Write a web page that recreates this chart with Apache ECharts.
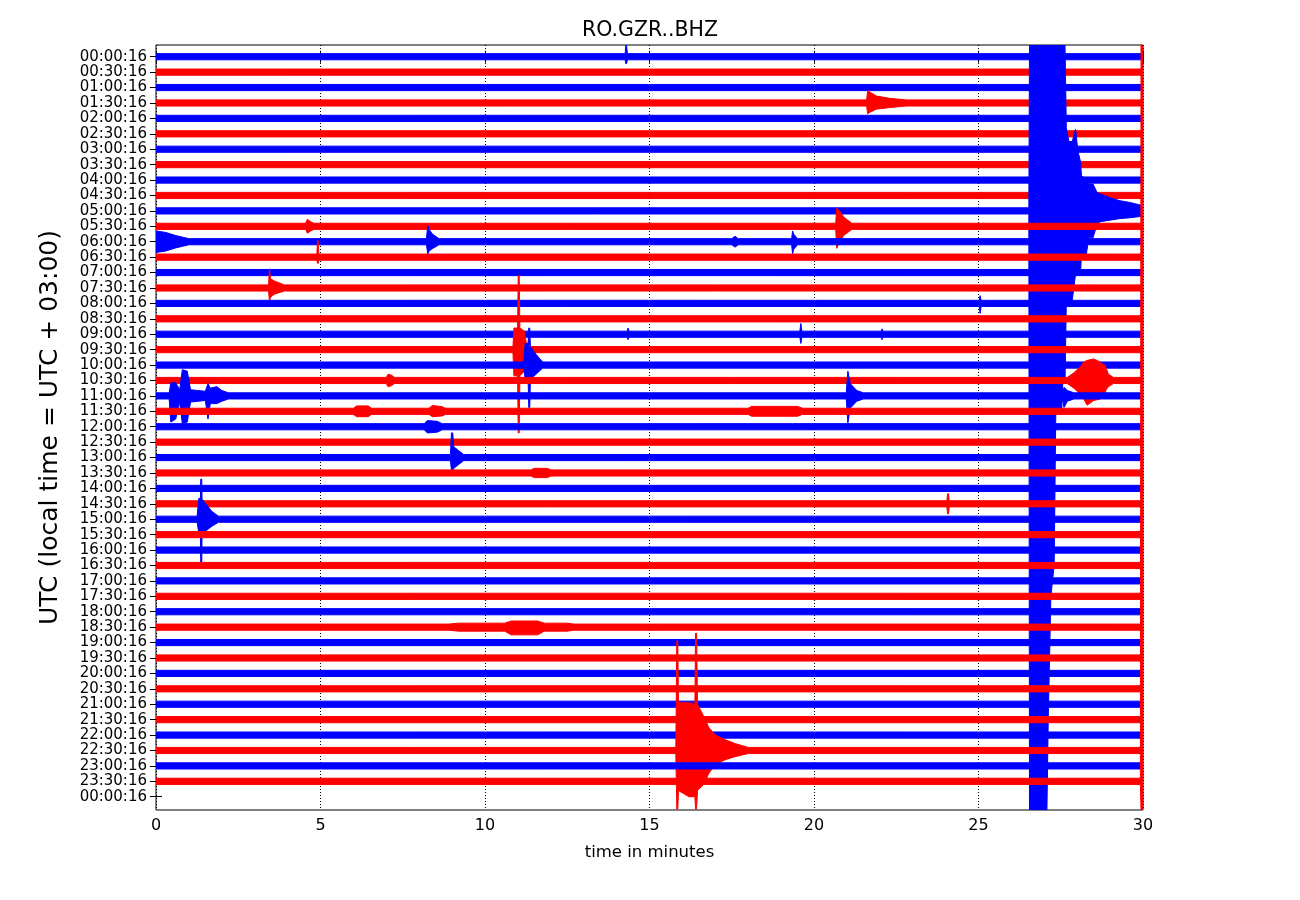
<!DOCTYPE html>
<html><head><meta charset="utf-8">
<script src="https://cdn.jsdelivr.net/npm/echarts@6/dist/echarts.min.js"></script>
<style>html,body{margin:0;padding:0;background:#fff}#c{width:1300px;height:900px}</style>
</head><body><div id="c"></div>
<script>
// ---------- data ----------
const traceLabels = ['00:00:16','00:30:16','01:00:16','01:30:16','02:00:16','02:30:16','03:00:16','03:30:16',
  '04:00:16','04:30:16','05:00:16','05:30:16','06:00:16','06:30:16','07:00:16','07:30:16','08:00:16','08:30:16',
  '09:00:16','09:30:16','10:00:16','10:30:16','11:00:16','11:30:16','12:00:16','12:30:16','13:00:16','13:30:16',
  '14:00:16','14:30:16','15:00:16','15:30:16','16:00:16','16:30:16','17:00:16','17:30:16','18:00:16','18:30:16',
  '19:00:16','19:30:16','20:00:16','20:30:16','21:00:16','21:30:16','22:00:16','22:30:16','23:00:16','23:30:16','00:00:16'];
const xTicks = [0, 5, 10, 15, 20, 25, 30];
const traceCount = 48;
const noise = 0.2; // half-width of the background noise band (in trace spacings)
// envelope key points per trace: [minute, amplitude up, amplitude down] (units: trace spacings)
const N = noise;
const trace00 = [[14.26,N,N],[14.28,0.75,0.45],[14.30,0.75,0.45],[14.33,N,N]];
const trace03 = [[21.60,N,N],[21.63,0.8,0.7],[21.70,0.7,0.6],[21.9,0.45,0.4],[22.3,0.3,0.3],[22.8,N,N]];
const trace10 = [[26.53,N,N],[26.55,12,40],[27.08,12,40],[27.12,12,33],[27.20,12,25],[27.30,12,23],[27.35,12,13],
  [27.53,12,13],[27.56,12,11.2],[27.63,12,11.2],[27.67,5.4,5.8],[27.75,4.5,5.8],[27.85,4.5,5.8],[27.95,5.3,4.1],
  [28.02,3.9,4.1],[28.10,3.2,4.1],[28.13,2.3,2.8],[28.28,2.0,2.8],[28.35,1.75,1.75],[28.48,1.75,1.75],[28.6,1.2,0.9],
  [28.7,1.1,0.7],[29.0,0.85,0.6],[29.3,0.66,0.5],[29.6,0.55,0.45],[29.97,0.35,0.35]];
const trace11 = [[4.55,N,N],[4.6,0.45,0.45],[4.7,0.3,0.3],[4.8,N,N],[20.66,N,N],[20.69,1.17,1.43],[20.78,1.0,1.0],[20.9,0.6,0.6],[21.15,N,N]];
const trace12 = [[0,0.7,0.7],[0.3,0.6,0.6],[0.6,0.4,0.4],[1.0,N,N],[8.22,N,N],[8.26,1.05,0.8],[8.30,0.8,0.6],[8.4,0.5,0.45],[8.6,N,N],
  [17.5,N,N],[17.6,0.35,0.35],[17.7,N,N],[19.32,N,N],[19.35,0.7,0.78],[19.38,0.5,0.5],[19.5,N,N]];
const trace13 = [[4.89,N,N],[4.91,1.07,0.4],[4.93,1.07,0.4],[4.95,N,N]];
const trace15 = [[3.42,N,N],[3.45,1.25,0.85],[3.48,0.6,0.6],[3.6,0.45,0.4],[3.9,N,N]];
const trace16 = [[25.02,N,N],[25.05,0.5,0.65],[25.08,N,N]];
const trace18 = [[14.32,N,N],[14.35,0.4,0.35],[14.38,N,N],[19.57,N,N],[19.6,0.7,0.6],[19.63,N,N],[22.05,N,N],[22.07,0.35,0.35],[22.09,N,N]];
const trace19 = [[10.85,N,N],[10.88,1.4,1.7],[10.99,1.4,1.7],[11.01,4.8,5.4],[11.04,4.8,5.4],[11.06,1.4,1.7],[11.2,1.2,1.4],[11.25,0.5,0.5],[11.4,N,N]];
const trace20 = [[11.18,N,N],[11.22,1.4,0.9],[11.31,1.4,0.9],[11.33,2.4,2.75],[11.36,2.4,2.75],[11.38,1.2,0.9],[11.55,0.7,0.6],[11.75,N,N]];
const trace21 = [[7.0,N,N],[7.05,0.4,0.4],[7.15,0.35,0.35],[7.25,N,N],[27.7,N,N],[27.9,0.5,0.5],[28.1,0.9,0.9],[28.2,1.2,1.2],[28.3,1.3,1.6],
  [28.5,1.4,1.3],[28.7,1.2,1.2],[28.8,1.0,0.8],[28.85,1.0,0.8],[28.88,0.8,0.6],[28.95,0.4,0.4],[29.1,N,N]];
const trace22 = [[0.4,N,N],[0.45,0.85,1.7],[0.6,0.85,1.5],[0.72,0.4,0.4],[0.8,1.7,1.8],[0.95,1.6,1.7],[1.05,0.4,0.4],[1.5,0.3,0.3],
  [1.58,0.8,1.5],[1.65,0.5,0.5],[1.85,0.6,0.5],[2.0,0.35,0.35],[2.2,N,N],[20.98,N,N],[21.03,1.6,1.75],[21.1,0.8,0.8],[21.3,0.35,0.35],
  [21.5,N,N],[27.55,N,N],[27.6,0.55,0.75],[27.7,0.35,0.35],[27.9,N,N]];
const trace23 = [[6.0,N,N],[6.1,0.35,0.35],[6.45,0.35,0.35],[6.55,N,N],[8.3,N,N],[8.4,0.38,0.35],[8.7,0.3,0.3],[8.8,N,N],
  [18.0,N,N],[18.1,0.32,0.32],[19.5,0.32,0.32],[19.65,N,N]];
const trace24 = [[8.15,N,N],[8.25,0.4,0.4],[8.55,0.35,0.35],[8.7,N,N]];
const trace26 = [[8.95,N,N],[8.98,1.6,0.85],[9.02,1.6,0.85],[9.05,0.7,0.7],[9.2,0.45,0.45],[9.35,N,N]];
const trace27 = [[11.4,N,N],[11.5,0.3,0.3],[11.9,0.3,0.3],[12.0,N,N]];
const trace29 = [[24.04,N,N],[24.06,0.65,0.65],[24.09,0.65,0.65],[24.11,N,N]];
const trace30 = [[1.25,N,N],[1.3,1.35,0.9],[1.35,1.35,0.9],[1.36,2.6,3.0],[1.39,2.6,3.0],[1.4,1.3,0.9],[1.55,0.9,0.7],[1.7,0.5,0.45],[1.9,N,N]];
const trace37 = [[8.9,N,N],[9.2,0.26,0.26],[10.6,0.26,0.26],[10.8,0.4,0.5],[11.6,0.4,0.5],[11.8,0.26,0.26],[12.5,0.26,0.26],[12.7,N,N]];
const trace45 = [[15.8,N,N],[15.83,7.1,3.8],[15.86,7.1,3.8],[15.88,3.1,2.6],[16.2,3.1,3.0],[16.38,3.0,3.0],[16.4,7.6,3.8],[16.43,7.6,3.8],
  [16.46,3.0,2.6],[16.65,2.2,2.2],[16.8,1.5,1.5],[17.0,1.0,0.9],[17.3,0.7,0.6],[17.6,0.45,0.4],[18.0,N,N]];
const trace47 = [[29.92,N,N],[29.94,48,2.0],[30,48,2.0]];
const traceEvents = {0:trace00,3:trace03,10:trace10,11:trace11,12:trace12,13:trace13,15:trace15,16:trace16,18:trace18,
  19:trace19,20:trace20,21:trace21,22:trace22,23:trace23,24:trace24,26:trace26,27:trace27,29:trace29,30:trace30,
  37:trace37,45:trace45,47:trace47};

// ---------- chart ----------
const Y_MIN = -0.76, Y_MAX = 48.86;
const colors = ['#0000ff', '#ff0000'];
function envelope(k) {
  const ev = (traceEvents[k] || []).slice();
  if (!ev.length || ev[0][0] > 0) ev.unshift([0, noise, noise]);
  if (ev[ev.length - 1][0] < 30) ev.push([30, noise, noise]);
  return ev;
}
const clampY = v => Math.max(Y_MIN, Math.min(Y_MAX, v));
const traceIdx = [];
for (let k = 0; k < traceCount; k++) traceIdx.push(k);
const labelValues = traceLabels.map((_, i) => i);

const font = 'DejaVu Sans';
const chart = echarts.init(document.getElementById('c'), null, {renderer: 'canvas'});
chart.setOption({
  animation: false,
  backgroundColor: '#fff',
  title: {text: 'RO.GZR..BHZ', left: 'center', top: 15,
    textStyle: {fontFamily: font, fontSize: 20.5, fontWeight: 'normal', color: '#000'}},
  grid: {left: 156, right: 157, top: 45, bottom: 90, show: true, borderColor: '#000', borderWidth: 1},
  xAxis: [{
    type: 'value', min: 0, max: 30, interval: 5, position: 'bottom',
    name: 'time in minutes', nameLocation: 'middle', nameGap: 34,
    nameTextStyle: {fontFamily: font, fontSize: 16.5, color: '#000'},
    axisLine: {show: false},
    axisTick: {show: true, inside: true, length: 6, lineStyle: {color: '#000'}},
    axisLabel: {fontFamily: font, fontSize: 16, color: '#000', margin: 8},
    splitLine: {show: true, lineStyle: {color: '#000', type: [1, 2], width: 1}}
  }, {
    type: 'value', min: 0, max: 30, interval: 5, position: 'top',
    axisLine: {show: false},
    axisTick: {show: true, inside: true, length: 6, lineStyle: {color: '#000'}},
    axisLabel: {show: false}, splitLine: {show: false}
  }],
  yAxis: [{
    type: 'value', min: Y_MIN, max: Y_MAX, inverse: true, position: 'left',
    name: 'UTC (local time = UTC + 03:00)', nameLocation: 'middle', nameGap: 93, nameRotate: 90,
    nameTextStyle: {fontFamily: font, fontSize: 25, color: '#000'},
    axisLine: {show: false},
    axisTick: {show: true, inside: true, length: 6, customValues: labelValues, lineStyle: {color: '#000'}},
    axisLabel: {fontFamily: font, fontSize: 15, color: '#000', margin: 9, customValues: labelValues,
      formatter: v => traceLabels[Math.round(v)]},
    splitLine: {show: false}
  }, {
    type: 'value', min: Y_MIN, max: Y_MAX, inverse: true, position: 'right',
    axisLine: {show: false},
    axisTick: {show: true, inside: true, length: 6, customValues: labelValues, lineStyle: {color: '#000'}},
    axisLabel: {show: false}, splitLine: {show: false}
  }],
  series: [{
    type: 'custom', coordinateSystem: 'cartesian2d', xAxisIndex: 0, yAxisIndex: 0, clip: true,
    data: traceIdx.map(k => [0, k]),
    renderItem: (params, api) => {
      const k = params.dataIndex;
      const env = envelope(k);
      const pts = [];
      env.forEach(p => pts.push(api.coord([p[0], clampY(k - p[1])])));
      for (let i = env.length - 1; i >= 0; i--) pts.push(api.coord([env[i][0], clampY(k + env[i][2])]));
      const c = colors[k % 2];
      return {type: 'polygon', shape: {points: pts}, style: {fill: c, stroke: c, lineWidth: 1}};
    }
  }]
});
</script></body></html>
